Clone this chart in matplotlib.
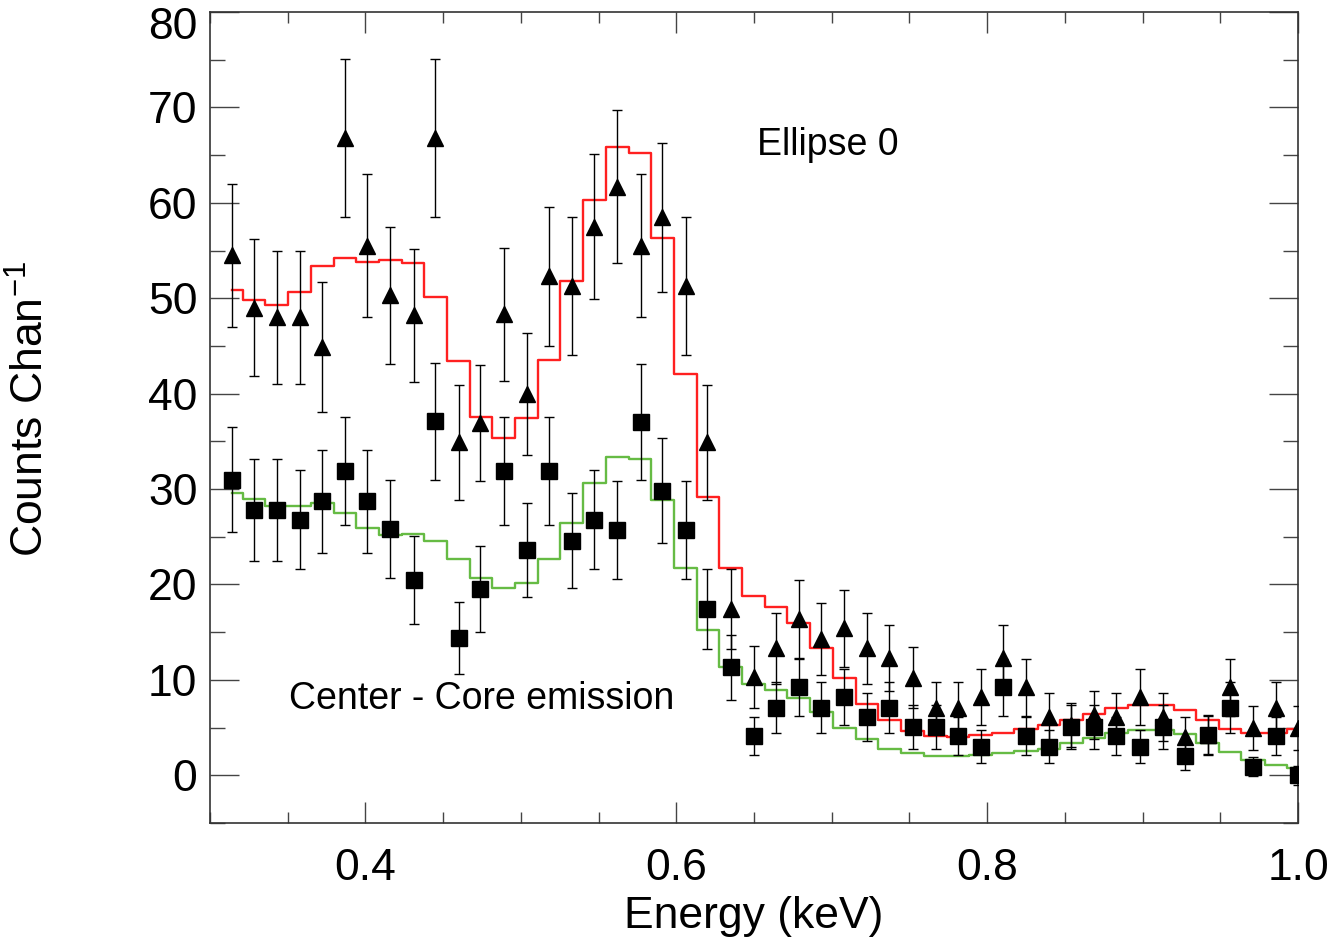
import numpy as np
import matplotlib
matplotlib.use('Agg')
import matplotlib.pyplot as plt
import matplotlib.transforms as mtransforms
from matplotlib.ticker import MultipleLocator

plt.rcParams['font.family'] = ['Liberation Sans', 'DejaVu Sans']
plt.rcParams['mathtext.fontset'] = 'custom'
plt.rcParams['mathtext.rm'] = 'Liberation Sans'
plt.rcParams['mathtext.it'] = 'Liberation Sans'

# channel energies (keV)
energy = [0.314, 0.328, 0.343, 0.358, 0.372, 0.387, 0.401, 0.416, 0.431, 0.445,
          0.460, 0.474, 0.489, 0.504, 0.518, 0.533, 0.547, 0.562, 0.577, 0.591,
          0.606, 0.620, 0.635, 0.650, 0.664, 0.679, 0.693, 0.708, 0.723, 0.737,
          0.752, 0.767, 0.781, 0.796, 0.810, 0.825, 0.840, 0.854, 0.869, 0.883,
          0.898, 0.913, 0.927, 0.942, 0.956, 0.971, 0.986, 1.000]

# Ellipse 0 counts (triangles)
ell_counts = [54.5, 49.0, 48.0, 48.0, 44.9, 66.8, 55.5, 50.3, 48.2, 66.8,
              34.9, 36.9, 48.3, 40.0, 52.3, 51.3, 57.5, 61.7, 55.5, 58.5,
              51.3, 34.9, 17.4, 10.3, 13.3, 16.4, 14.3, 15.4, 13.3, 12.3,
              10.2, 7.1, 7.1, 8.2, 12.3, 9.2, 6.1, 5.3, 6.3, 6.1,
              8.2, 6.1, 4.0, 4.2, 9.2, 5.0, 7.1, 5.0]
ell_err = [7.5, 7.2, 7.0, 7.0, 6.8, 8.3, 7.5, 7.2, 7.0, 8.3,
           6.0, 6.1, 7.0, 6.4, 7.3, 7.2, 7.6, 8.0, 7.5, 7.8,
           7.2, 6.0, 4.2, 3.2, 3.7, 4.1, 3.8, 4.0, 3.7, 3.5,
           3.2, 2.7, 2.7, 2.9, 3.5, 3.0, 2.5, 2.3, 2.5, 2.5,
           2.9, 2.5, 2.1, 2.1, 3.0, 2.3, 2.7, 2.3]
ell_model = [50.9, 49.8, 49.3, 50.7, 53.4, 54.2, 53.8, 54.0, 53.7, 50.1,
             43.4, 37.5, 35.3, 37.4, 43.5, 51.8, 60.3, 65.9, 65.2, 56.3,
             42.1, 29.2, 21.7, 18.8, 17.6, 16.0, 13.3, 10.2, 7.5, 5.8,
             4.6, 4.1, 4.0, 4.2, 4.4, 4.8, 5.3, 5.8, 6.4, 7.0,
             7.4, 7.4, 6.8, 5.8, 4.9, 4.4, 4.4, 4.9]

# Center counts (squares)
cen_counts = [31.0, 27.8, 27.8, 26.8, 28.7, 31.9, 28.7, 25.8, 20.5, 37.1,
              14.4, 19.5, 31.9, 23.6, 31.9, 24.6, 26.8, 25.7, 37.0, 29.8,
              25.7, 17.4, 11.3, 4.1, 7.1, 9.2, 7.1, 8.2, 6.1, 7.1,
              5.1, 5.1, 4.1, 3.0, 9.2, 4.1, 3.0, 5.1, 5.1, 4.1,
              3.0, 5.1, 2.0, 4.2, 7.1, 0.9, 4.1, 0.0]
cen_err = [5.5, 5.3, 5.3, 5.2, 5.4, 5.7, 5.4, 5.1, 4.6, 6.1,
           3.8, 4.5, 5.7, 4.9, 5.7, 5.0, 5.2, 5.1, 6.1, 5.5,
           5.1, 4.2, 3.4, 2.0, 2.7, 3.0, 2.7, 2.9, 2.5, 2.7,
           2.3, 2.3, 2.0, 1.7, 3.0, 2.0, 1.7, 2.3, 2.3, 2.0,
           1.7, 2.3, 1.4, 2.0, 2.7, 1.0, 2.0, 1.0]
cen_model = [29.6, 29.0, 28.2, 28.2, 28.5, 27.5, 25.9, 25.2, 25.3, 24.6,
             22.7, 20.7, 19.6, 20.2, 22.7, 26.4, 30.6, 33.4, 33.2, 28.8,
             21.7, 15.2, 11.3, 9.6, 8.9, 8.1, 6.6, 5.0, 3.8, 2.8,
             2.3, 2.0, 2.0, 2.1, 2.3, 2.5, 2.8, 3.4, 3.9, 4.4,
             4.7, 4.7, 4.3, 3.4, 2.4, 1.6, 1.1, 0.8]

fig = plt.figure(figsize=(13.4, 9.44), dpi=100)
ax = fig.add_axes([0.1567, 0.1282, 0.812, 0.8591])

ax.plot(energy, ell_model, drawstyle='steps-mid', color='#ff2020', lw=1.7, zorder=2)
ax.plot(energy, cen_model, drawstyle='steps-mid', color='#66bb44', lw=1.7, zorder=2)

ax.errorbar(energy, ell_counts, yerr=ell_err, fmt='^', color='black', ms=11,
            ecolor='black', elinewidth=1.0, capsize=3.6, capthick=1.0, zorder=3)
ax.errorbar(energy, cen_counts, yerr=cen_err, fmt='s', color='black', ms=11,
            ecolor='black', elinewidth=1.0, capsize=3.6, capthick=1.0, zorder=3)

ax.text(0.6518, 65.0, 'Ellipse 0', fontsize=27, ha='left', va='baseline')
ax.text(0.3508, 6.9, 'Center - Core emission', fontsize=27, ha='left', va='baseline')

ax.set_xlim(0.3, 1.0)
ax.set_ylim(-5, 80)
ax.xaxis.set_minor_locator(MultipleLocator(0.05))
ax.yaxis.set_minor_locator(MultipleLocator(5))
ax.set_xticks([0.4, 0.6, 0.8, 1.0])
ax.set_xticklabels(['0.4', '0.6', '0.8', '1.0'])
ax.set_yticks([0, 10, 20, 30, 40, 50, 60, 70, 80])

ax.tick_params(which='both', direction='in', top=True, right=True, width=1.0, color='#444444')
ax.tick_params(which='major', length=15, labelsize=32)
ax.tick_params(which='minor', length=8)
ax.tick_params(axis='y', which='major', length=21, pad=9)
ax.tick_params(axis='y', which='minor', length=11)
ax.tick_params(axis='x', which='major', pad=18)
for s in ax.spines.values():
    s.set_linewidth(1.2)
    s.set_color('#333333')

# top y label sits a bit lower so it stays inside the figure
top_lab = ax.get_yticklabels()[-1]
top_lab.set_transform(top_lab.get_transform() +
                      mtransforms.ScaledTranslation(0, -11 / 100, fig.dpi_scale_trans))

ax.set_xlabel('Energy (keV)', fontsize=32, labelpad=5)
ax.set_ylabel('Counts Chan$^{-1}$', fontsize=32)
ax.yaxis.set_label_coords(-0.145, 0.51)

fig.savefig('out.png', dpi=100)
